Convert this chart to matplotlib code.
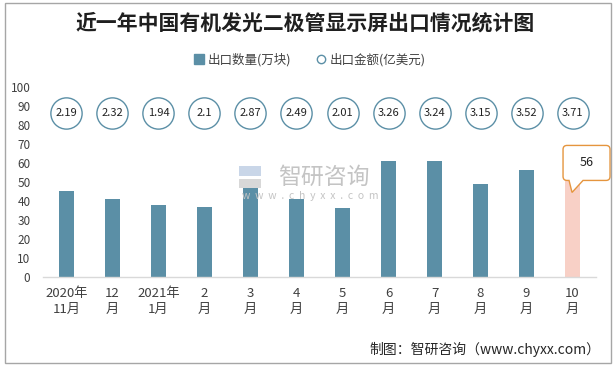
import matplotlib
matplotlib.use("Agg")
import matplotlib.pyplot as plt
from matplotlib.lines import Line2D
from matplotlib.patches import Rectangle, PathPatch
from matplotlib.path import Path
import matplotlib.transforms as mtransforms

plt.rcParams['font.family'] = ['Noto Sans CJK SC', 'DejaVu Sans']

# ---- data ----
categories = ["2020年\n11月", "12\n月", "2021年\n1月", "2\n月", "3\n月", "4\n月",
              "5\n月", "6\n月", "7\n月", "8\n月", "9\n月", "10\n月"]
volume = [45, 41, 38, 37, 47, 41, 36, 61, 61, 49, 56, 56]          # 出口数量(万块)
amount = [2.19, 2.32, 1.94, 2.1, 2.87, 2.49, 2.01, 3.26, 3.24, 3.15, 3.52, 3.71]  # 出口金额(亿美元)
yticks = [0, 10, 20, 30, 40, 50, 60, 70, 80, 90, 100]

title = "近一年中国有机发光二极管显示屏出口情况统计图"
legend_labels = ["出口数量(万块)", "出口金额(亿美元)"]
source = "制图：智研咨询（www.chyxx.com）"

bar_color = "#5B8FA6"
last_color = "#F8D0C6"
circle_edge = "#5B8FA6"
orange = "#E5953E"
text_color = "#404040"

W, H = 616, 368
fig = plt.figure(figsize=(W / 100, H / 100), dpi=100)

# frame
fig.patches.append(Rectangle((5 / W, 1 - 363 / H), 606 / W, 360 / H, transform=fig.transFigure,
                             fill=False, edgecolor="#A6A6A6", linewidth=1.0))

ax = fig.add_axes([43 / W, 1 - 277 / H, 553 / W, 190.3 / H])
ax.set_xlim(-0.51, 11.51)
ax.set_ylim(0, 100)

x = list(range(len(categories)))
colors = [bar_color] * (len(volume) - 1) + [last_color]
ax.bar(x, volume, width=0.33, color=colors, zorder=2)

circle_y = 86
ax.plot(x, [circle_y] * len(x), linestyle="none", marker="o", markersize=22.5,
        markerfacecolor="white", markeredgecolor=circle_edge, markeredgewidth=1.0, zorder=3)
for xi, v in zip(x, amount):
    ax.text(xi, circle_y, f"{v:g}", ha="center", va="center", fontsize=8,
            color="#222222", zorder=4)

ax.set_yticks(yticks)
ax.set_xticks(x)
ax.set_xticklabels(categories, fontsize=9.5, color=text_color, linespacing=1.35)
ax.tick_params(axis="y", length=0, pad=9, labelsize=8.5, labelcolor=text_color)
ax.tick_params(axis="x", length=0, pad=7)
for s in ["top", "right", "left"]:
    ax.spines[s].set_visible(False)
ax.spines["bottom"].set_color("#D9D9D9")
ax.spines["bottom"].set_linewidth(1.0)

# callout on the last bar
anchor = mtransforms.ScaledTranslation(x[-1], volume[-1], ax.transData)
tr = mtransforms.Affine2D().scale(1 / 100) + fig.dpi_scale_trans + anchor
r = 4
L, R, T, B = -9.5, 37.5, 25, -10
verts = [(L + r, T), (R - r, T), (R, T), (R, T - r), (R, B + r), (R, B), (R - r, B),
         (10.5, B), (-0.5, -22), (-3.5, B), (L + r, B), (L, B), (L, B + r),
         (L, T - r), (L, T), (L + r, T), (L + r, T)]
codes = [Path.MOVETO, Path.LINETO, Path.CURVE3, Path.CURVE3, Path.LINETO, Path.CURVE3, Path.CURVE3,
         Path.LINETO, Path.LINETO, Path.LINETO, Path.LINETO, Path.CURVE3, Path.CURVE3,
         Path.LINETO, Path.CURVE3, Path.CURVE3, Path.CLOSEPOLY]
callout = PathPatch(Path(verts, codes), facecolor="white", edgecolor=orange, linewidth=1.0,
                    transform=tr, clip_on=False, zorder=5)
ax.add_patch(callout)
ax.text(14 / 100, 7.5 / 100, f"{volume[-1]}", transform=fig.dpi_scale_trans + anchor,
        ha="center", va="center", fontsize=9, color="#222222", zorder=6)

# watermark
fig.text(324 / W, 1 - 177 / H, "智研咨询", fontsize=16.5, color="#C4C4C4", ha="center",
         va="center", zorder=0)
fig.text(310 / W, 1 - 196 / H, "w  w  w  .  c  h  y  x  x  .  c  o  m", fontsize=7.5,
         color="#C4C4C4", ha="center", va="center", zorder=0)
fig.patches.append(Rectangle((239 / W, 1 - 176 / H), 22 / W, 10 / H, transform=fig.transFigure,
                             facecolor="#C9D6E8", edgecolor="none", zorder=0))
fig.patches.append(Rectangle((239 / W, 1 - 188 / H), 22 / W, 9 / H, transform=fig.transFigure,
                             facecolor="#D8D8D8", edgecolor="none", zorder=0))

# title
fig.text(305 / W, 1 - 23 / H, title, fontsize=15, fontweight="bold", color="#1F1F1F",
         ha="center", va="center")

# legend
handles = [Line2D([], [], linestyle="none", marker="s", markersize=7, markerfacecolor=bar_color,
                  markeredgecolor=bar_color),
           Line2D([], [], linestyle="none", marker="o", markersize=6, markerfacecolor="white",
                  markeredgecolor=circle_edge, markeredgewidth=1.0)]
fig.legend(handles, legend_labels, loc="center", bbox_to_anchor=(310 / W, 1 - 60 / H), ncol=2,
           frameon=False, fontsize=9, handlelength=0.8, handletextpad=0.3, columnspacing=2.0,
           labelcolor=text_color)

# source
fig.text(600 / W, 1 - 349 / H, source, fontsize=10, color="#262626", ha="right", va="center")

fig.savefig("out.png", dpi=100)
